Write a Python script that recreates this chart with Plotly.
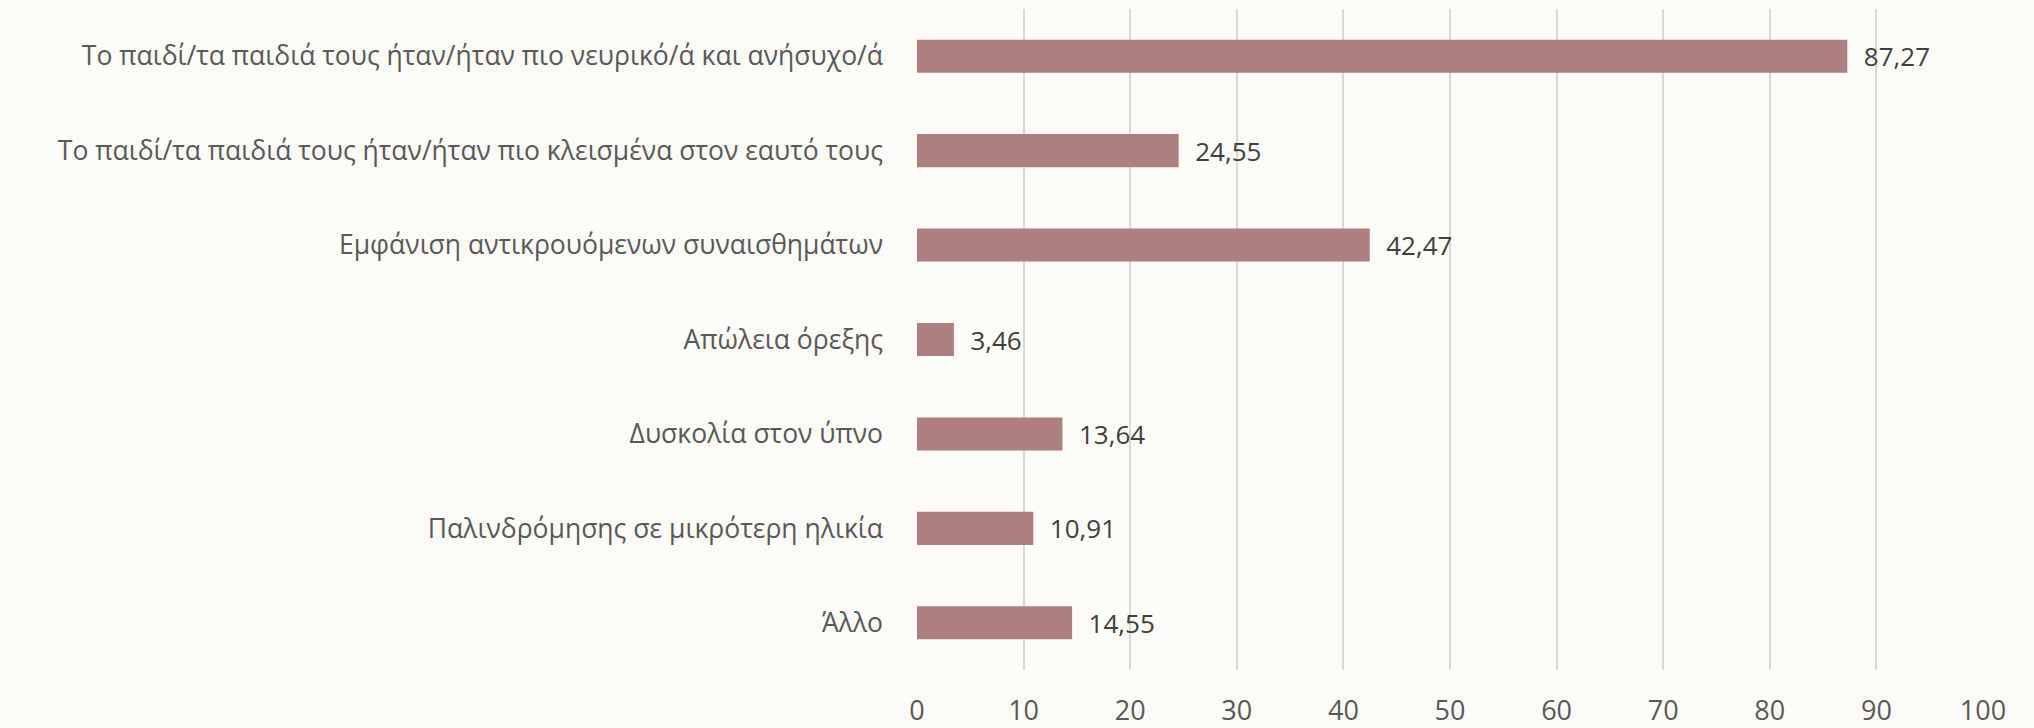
import plotly.graph_objects as go

categories = [
    "Το παιδί/τα παιδιά τους ήταν/ήταν πιο νευρικό/ά και ανήσυχο/ά",
    "Το παιδί/τα παιδιά τους ήταν/ήταν πιο κλεισμένα στον εαυτό τους",
    "Εμφάνιση αντικρουόμενων συναισθημάτων",
    "Απώλεια όρεξης",
    "Δυσκολία στον ύπνο",
    "Παλινδρόμησης σε μικρότερη ηλικία",
    "Άλλο",
]
values = [87.27, 24.55, 42.47, 3.46, 13.64, 10.91, 14.55]
tick_vals = [0, 10, 20, 30, 40, 50, 60, 70, 80, 90, 100]

BG = "#FCFBF7"
BAR = "#AE7F7F"
FONT = "Open Sans"

fig = go.Figure(go.Bar(
    x=values, y=categories, orientation="h",
    marker=dict(color=BAR, line=dict(width=0)),
    width=0.35,
    texttemplate="  %{x:.2f}", textposition="outside",
    constraintext="none",
    textfont=dict(family=FONT, size=26, color="#404040"),
    cliponaxis=False,
))

fig.update_layout(
    width=2034, height=728,
    paper_bgcolor=BG, plot_bgcolor=BG,
    margin=dict(l=917, r=51, t=9, b=58),
    separators=",.",
    showlegend=False,
    font=dict(family=FONT, color="#595959"),
)
fig.update_xaxes(
    range=[0, 100], tickvals=tick_vals, showgrid=True, gridcolor="#D9D9D9", gridwidth=2,
    zeroline=False, showline=False, tickfont=dict(size=27, color="#595959"),
    ticklabelstandoff=22, fixedrange=True, automargin=False,
)
fig.update_yaxes(
    autorange="reversed", showgrid=False, zeroline=False, showline=False,
    tickfont=dict(size=26.5, color="#595959"), ticklabelstandoff=33, automargin=False,
)

fig.write_html(
    "out.html",
    config={"displayModeBar": False},
    post_script="document.body.style.margin='0';document.body.style.background='#FCFBF7';",
)
